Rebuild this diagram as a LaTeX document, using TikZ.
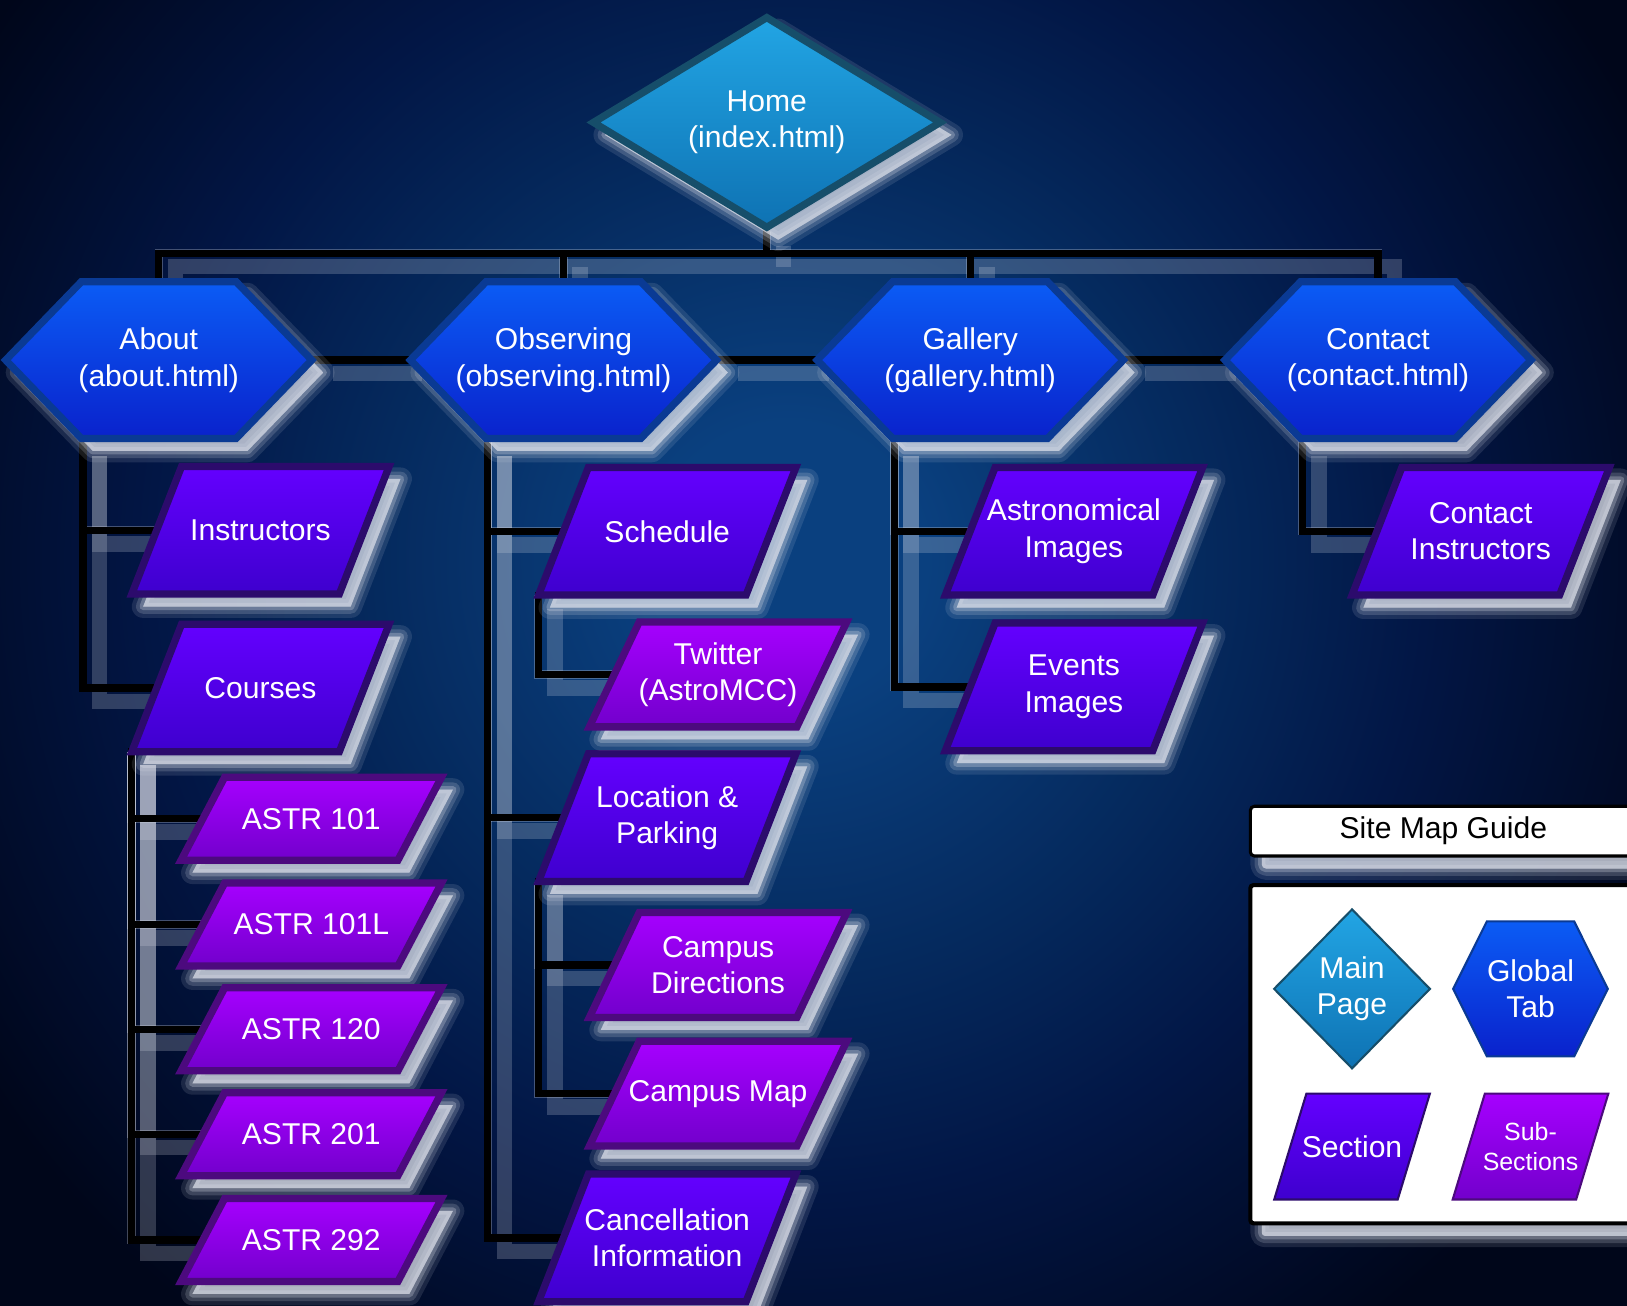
\documentclass[tikz,border=0pt]{standalone}
\usepackage{fontspec}
\setmainfont{Liberation Sans}
\usetikzlibrary{shapes.geometric,shapes.symbols,shadows}
\definecolor{bgin}{HTML}{0A407F}
\definecolor{bgmid}{HTML}{052A5E}
\definecolor{bgdark}{HTML}{021645}
\definecolor{bgout}{HTML}{00061A}
\definecolor{glowc}{HTML}{DCE0EA}
\definecolor{homehi}{HTML}{22A5E4}
\definecolor{homelo}{HTML}{0E72B3}
\definecolor{homeline}{HTML}{164E6A}
\definecolor{tabhi}{HTML}{0B5CF5}
\definecolor{tablo}{HTML}{0A22CC}
\definecolor{tabline}{HTML}{0A3A94}
\definecolor{sechi}{HTML}{6400FF}
\definecolor{seclo}{HTML}{3E00CE}
\definecolor{secline}{HTML}{2C0B6C}
\definecolor{subhi}{HTML}{A600FF}
\definecolor{sublo}{HTML}{7200CC}
\definecolor{subline}{HTML}{4C0A7E}
\pgfdeclarelayer{back}
\pgfdeclarelayer{wires}
\pgfsetlayers{back,wires,main}
\pgfdeclareradialshading{skyglow}{\pgfpoint{0bp}{0bp}}{color(0bp)=(bgin); color(3bp)=(bgin); color(9bp)=(bgmid); color(14bp)=(bgdark); color(21bp)=(bgout); color(50bp)=(bgout)}
\begin{document}
\begin{tikzpicture}[x=1pt, y=-1pt,
    every node/.style={text=white, align=center, font=\fontsize{29}{35}\selectfont},
    haze/.style={
        general shadow={shadow xshift=11pt, shadow yshift=-12pt, draw=glowc, fill=glowc, line width=22pt, line join=round, opacity=0.12},
        general shadow={shadow xshift=11pt, shadow yshift=-12pt, draw=glowc, fill=glowc, line width=14pt, line join=round, opacity=0.18},
        general shadow={shadow xshift=11pt, shadow yshift=-12pt, draw=glowc, fill=glowc, line width=7pt, line join=round, opacity=0.28},
        general shadow={shadow xshift=11pt, shadow yshift=-12pt, fill=glowc, opacity=0.5}},
    pagebox/.style={diamond, aspect=1.64, inner sep=0pt, minimum width=337pt, minimum height=205pt,
        draw=homeline, line width=7pt, top color=homehi, bottom color=homelo},
    tabbox/.style={signal, signal to=east and west, signal pointer angle=92, inner xsep=-40pt,
        minimum width=295pt, minimum height=151pt, draw=tabline, line width=7pt, top color=tabhi, bottom color=tablo},
    sectionbox/.style={draw=secline, line width=7pt, top color=sechi, bottom color=seclo},
    subbox/.style={draw=subline, line width=7pt, top color=subhi, bottom color=sublo},
    wire/.style={draw=black, line width=7pt, line cap=rect},
    wireglow/.style={draw=glowc, line width=15pt, opacity=0.22, transform canvas={shift={(16pt,-13pt)}},
        preaction={draw=glowc, line width=8pt, opacity=0.3}},
]
    \useasboundingbox (0,0) rectangle (1568,1258);
    \begin{pgfonlayer}{back}
        \clip (0,0) rectangle (1568,1258);
        \fill[bgout] (0,0) rectangle (1568,1258);
        \shade[shading=skyglow] (760,540) circle (1100);
    \end{pgfonlayer}

    \node[pagebox, haze] (home) at (739,118) {Home\\(index.html)};

    \node[tabbox, haze] (about) at (153,347) {About\\(about.html)};
    \node[tabbox, haze] (observing) at (543,347) {Observing\\(observing.html)};
    \node[tabbox, haze] (gallery) at (935,347) {Gallery\\(gallery.html)};
    \node[tabbox, haze] (contact) at (1328,347) {Contact\\(contact.html)};

    \def\secw{248}\def\sech{123}\def\secs{48}
    \foreach \n/\x/\y/\t in {instructors/251/511/Instructors, courses/251/663/Courses,
                             schedule/643/512/Schedule, location/643/788/{Location \&\\Parking},
                             cancel/643/1193/{Cancellation\\Information},
                             astroimg/1035/512/{Astronomical\\Images}, eventsimg/1035/662/{Events\\Images},
                             contactinstr/1427/512/{Contact\\Instructors}} {
        \draw[sectionbox, haze] (\x-\secw/2, \y+\sech/2) -- ++(\secs,-\sech) -- ++(\secw-\secs,0) -- ++(-\secs,\sech) -- cycle;
        \node[minimum width=\secw-\secs, minimum height=\sech] (\n) at (\x,\y) {\t};
    }

    \def\subw{248}\def\subh{101}\def\subs{48}
    \foreach \n/\x/\y/\t in {twitter/692/650/{Twitter\\(AstroMCC)}, directions/692/930/{Campus\\Directions},
                             campusmap/692/1054/Campus Map} {
        \draw[subbox, haze] (\x-\subw/2, \y+\subh/2) -- ++(\subs,-\subh) -- ++(\subw-\subs,0) -- ++(-\subs,\subh) -- cycle;
        \node[minimum width=\subw-\subs, minimum height=\subh] (\n) at (\x,\y) {\t};
    }

    \def\astw{251}\def\asth{80}\def\asts{42}
    \foreach \n/\y/\t in {astr101/789/ASTR 101, astr101l/891/ASTR 101L, astr120/992/ASTR 120,
                          astr201/1093/ASTR 201, astr292/1195/ASTR 292} {
        \draw[subbox, haze] (300-\astw/2, \y+\asth/2) -- ++(\asts,-\asth) -- ++(\astw-\asts,0) -- ++(-\asts,\asth) -- cycle;
        \node[minimum width=\astw-\asts, minimum height=\asth] (\n) at (300,\y) {\t};
    }

    \node[haze, draw=black, line width=3pt, fill=white, rounded corners=4pt, text=black,
        minimum width=372pt, minimum height=48pt] (guide) at (1391,801) {Site Map Guide};
    \node[haze, draw=black, line width=4pt, fill=white, rounded corners=3pt,
        minimum width=372pt, minimum height=326pt] (guidebox) at (1391,1016) {};
    \node[pagebox, line width=2pt, aspect=1, minimum width=151pt, minimum height=154pt] (keymain) at (1303,953) {Main\\Page};
    \node[tabbox, line width=2pt, signal pointer angle=127, minimum width=149pt, minimum height=130pt] (keytab) at (1475,953) {Global\\Tab};
    \draw[sectionbox, line width=2pt] (1303-75, 1105+51) -- ++(31,-102) -- ++(119,0) -- ++(-31,102) -- cycle;
    \node (keysection) at (1303,1105) {Section};
    \draw[subbox, line width=2pt] (1475-75, 1105+51) -- ++(31,-102) -- ++(119,0) -- ++(-31,102) -- cycle;
    \node[font=\fontsize{24}{28}\selectfont] (keysub) at (1475,1105) {Sub-\\Sections};

    \coordinate (bus) at (739,244);
    \begin{pgfonlayer}{wires}
        \foreach \s in {wireglow,wire} {
            \draw[\s] (home.south) -- (bus);
            \draw[\s] (about.north) |- (bus) -| (contact.north);
            \draw[\s] (observing.north) -- (observing.north |- bus);
            \draw[\s] (gallery.north) -- (gallery.north |- bus);
            \draw[\s] (about.east) -- (observing.west);
            \draw[\s] (observing.east) -- (gallery.west);
            \draw[\s] (gallery.east) -- (contact.west);
            \draw[\s] ([xshift=-73pt]about.south) |- (instructors.west);
            \draw[\s] ([xshift=-73pt]about.south) |- (courses.west);
            \foreach \n in {astr101,astr101l,astr120,astr201,astr292}
                \draw[\s] ([xshift=-24pt]courses.south west) |- (\n.west);
            \draw[\s] ([xshift=-73pt]observing.south) |- (schedule.west);
            \draw[\s] ([xshift=-73pt]observing.south) |- (location.west);
            \draw[\s] ([xshift=-73pt]observing.south) |- (cancel.west);
            \draw[\s] ([xshift=-24pt]schedule.south west) |- (twitter.west);
            \draw[\s] ([xshift=-24pt]location.south west) |- (directions.west);
            \draw[\s] ([xshift=-24pt]location.south west) |- (campusmap.west);
            \draw[\s] ([xshift=-73pt]gallery.south) |- (astroimg.west);
            \draw[\s] ([xshift=-73pt]gallery.south) |- (eventsimg.west);
            \draw[\s] ([xshift=-73pt]contact.south) |- (contactinstr.west);
        }
    \end{pgfonlayer}
\end{tikzpicture}
\end{document}
